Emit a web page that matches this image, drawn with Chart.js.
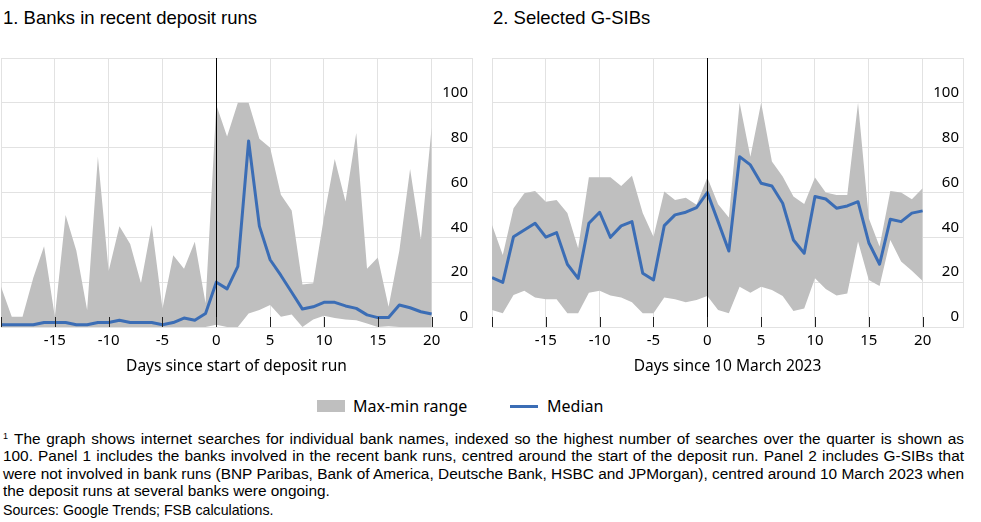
<!DOCTYPE html>
<html>
<head>
<meta charset="utf-8">
<script src="https://cdn.jsdelivr.net/npm/chart.js@4.4.1/dist/chart.umd.min.js"></script>
<style>
  body { margin: 0; background: #fff; width: 981px; height: 522px; overflow: hidden; position: relative; }
  .title { position: absolute; top: 7px; font: 18.5px 'Liberation Sans', Arial, sans-serif; color: #000; }
  .panel { position: absolute; top: 50px; }
  #legend { position: absolute; top: 396px; left: 0; width: 981px; font: 16px 'Noto Sans', sans-serif; color: #000; }
  .lg { position: absolute; top: 0; line-height: 20px; }
  .lg-box { position: absolute; top: 4px; width: 28px; height: 12px; background: #bfbfbf; }
  .lg-line { position: absolute; top: 9px; width: 28px; height: 3px; background: #3b6db5; }
  #note { position: absolute; left: 3px; top: 428px; width: 961px; font: 15.4px 'Liberation Sans', Arial, sans-serif; line-height: 17.3px; color: #000; }
  #note .j { text-align: justify; text-align-last: justify; white-space: nowrap; }
  #note sup { font-size: 9px; vertical-align: 5px; margin-right: 6px; }
  #src { position: absolute; left: 3px; top: 502px; font: 14.2px 'Liberation Sans', Arial, sans-serif; color: #000; }
</style>
</head>
<body>
<div class="title" style="left:3px">1. Banks in recent deposit runs</div>
<div class="title" style="left:493px">2. Selected G-SIBs</div>
<div class="panel" style="left:0; width:485px; height:340px"><canvas id="c1"></canvas></div>
<div class="panel" style="left:485px; width:490px; height:340px"><canvas id="c2"></canvas></div>
<div id="legend">
  <div class="lg-box" style="left:317px"></div>
  <div class="lg" style="left:353px">Max-min range</div>
  <div class="lg-line" style="left:510px"></div>
  <div class="lg" style="left:547px">Median</div>
</div>
<div id="note">
  <div class="j"><sup>1</sup>The graph shows internet searches for individual bank names, indexed so the highest number of searches over the quarter is shown as</div>
  <div class="j">100. Panel 1 includes the banks involved in the recent bank runs, centred around the start of the deposit run. Panel 2 includes G-SIBs that</div>
  <div class="j">were not involved in bank runs (BNP Paribas, Bank of America, Deutsche Bank, HSBC and JPMorgan), centred around 10 March 2023 when</div>
  <div>the deposit runs at several banks were ongoing.</div>
</div>
<div id="src">Sources: Google Trends; FSB calculations.</div>

<script>
// day offsets shared by both panels
const days = [-20, -19, -18, -17, -16, -15, -14, -13, -12, -11, -10, -9, -8, -7, -6, -5, -4, -3, -2, -1,
              0, 1, 2, 3, 4, 5, 6, 7, 8, 9, 10, 11, 12, 13, 14, 15, 16, 17, 18, 19, 20];
const xTicks = [-20, -15, -10, -5, 0, 5, 10, 15, 20];
const yTicks = [0, 20, 40, 60, 80, 100, 120];

// panel 1: banks in recent deposit runs
const p1Max = [18, 4.6, 4.6, 22, 36, 4.6, 50, 34, 7.6, 76, 25, 45, 37, 19.5, 45.5, 8.3, 32, 26, 38, 10.6,
               99, 85, 100, 100, 84, 80, 59, 52, 19, 19.5, 49, 75, 56, 86.5, 26, 31, 9, 34, 70.5, 39, 89];
const p1Min = [0, 0, 0, 0, 0, 0, 0, 0, 0, 0, 0, 0, 0, 0, 0, 0, 0, 0, 0, 0,
               1, 0, 0, 6, 7.6, 9.8, 4.6, 5.6, 0, 3.4, 5, 4, 3.4, 3, 1.6, 0, 0.3, 0, 0, 0, 0];
const p1Med = [1, 1, 1, 1, 2, 2, 2, 1, 1, 2, 2, 3, 2, 2, 2, 1, 2, 4, 3, 6,
               20, 17, 27, 83, 45, 30, 23, 15.5, 8, 9, 11, 11, 9.4, 8.3, 5.4, 4.2, 4.2, 9.8, 8.6, 6.8, 5.8];

// panel 2: selected G-SIBs
const p2Max = [45.5, 32.1, 53, 59.7, 60.7, 55.9, 56.7, 50.8, 35.1, 66.8, 66.8, 66.8, 62.9, 67.5, 50.8, 40.3, 60.4, 56.7, 57.7, 54.5,
               66.7, 54.8, 48.8, 100, 76, 100, 73.8, 67.1, 58.2, 54.9, 66.7, 60, 58.9, 58.9, 100, 48.5, 35.9, 60.7, 60, 57, 61.9];
const p2Min = [7.6, 6.1, 14.3, 16.2, 13.2, 12.4, 12.4, 6.1, 6.1, 15.3, 16.2, 14, 13.2, 11, 6.1, 6.1, 13.2, 12.4, 11, 12,
               13.8, 7.6, 6.1, 18, 15.3, 18, 16.5, 13.8, 7.1, 8.3, 21.7, 17, 14, 15, 38.1, 21, 18.3, 38.8, 29.2, 25.1, 20.5];
const p2Med = [22, 19.9, 40.3, 43.3, 46.3, 40.1, 42.1, 28, 21.7, 46.3, 51.2, 40, 45.1, 47, 24, 21, 45.2, 50, 51.2, 53.3,
               60, 47, 33.9, 76, 72.3, 64.1, 62.9, 55.2, 38.8, 32.9, 58.2, 57.1, 53, 54, 55.9, 37.6, 28, 48.1, 47, 50.8, 51.8];

const GRID = '#e2e2e2';
const RANGE = '#bfbfbf';
const BLUE = '#3b6db5';
const TICK_FONT = { family: "'Noto Sans', sans-serif", size: 15 };
const TITLE_FONT = { family: "'Noto Sans', sans-serif", size: 15.5 };

function pts(arr) { return days.map((d, i) => ({ x: d, y: arr[i] })); }

// zero line and the small inward tick marks, drawn over the range fill
const panelMarks = {
    id: 'panelMarks',
    afterDatasetsDraw(chart) {
        const { ctx, chartArea, scales } = chart;
        const x = scales.x;
        ctx.save();
        ctx.lineWidth = 1;
        ctx.strokeStyle = '#000';
        const z = Math.round(x.getPixelForValue(0)) + 0.5;
        ctx.beginPath();
        ctx.moveTo(z, chartArea.top);
        ctx.lineTo(z, chartArea.bottom);
        ctx.stroke();
        ctx.strokeStyle = '#222';
        xTicks.forEach(v => {
            const px = Math.round(x.getPixelForValue(v)) + 0.5;
            ctx.beginPath();
            ctx.moveTo(px, chartArea.bottom);
            ctx.lineTo(px, chartArea.bottom - 10);
            ctx.stroke();
        });
        ctx.restore();
    }
};

function makePanel(id, med, max, min, xTitle, pad) {
    return new Chart(document.getElementById(id), {
        type: 'line',
        data: {
            datasets: [
                { label: 'Median', data: pts(med), borderColor: BLUE, borderWidth: 3, borderJoinStyle: 'round',
                  pointRadius: 0, fill: false, tension: 0 },
                { label: 'Max', data: pts(max), borderWidth: 0, borderColor: 'rgba(0,0,0,0)', pointRadius: 0,
                  fill: '+1', backgroundColor: RANGE, tension: 0 },
                { label: 'Min', data: pts(min), borderWidth: 0, borderColor: 'rgba(0,0,0,0)', pointRadius: 0,
                  fill: false, tension: 0 }
            ]
        },
        options: {
            responsive: true,
            maintainAspectRatio: false,
            animation: false,
            layout: { padding: pad },
            plugins: { legend: { display: false }, tooltip: { enabled: false } },
            scales: {
                x: {
                    type: 'linear',
                    min: -20,
                    max: 23.75,
                    afterBuildTicks: s => { s.ticks = xTicks.map(v => ({ value: v })); },
                    afterFit: s => { s.height = 60; s.paddingLeft = 0; s.paddingRight = 0; },
                    grid: { color: GRID, drawTicks: false },
                    border: { color: GRID },
                    ticks: {
                        font: TICK_FONT, color: '#000', padding: 5, maxRotation: 0,
                        callback: v => (v === -20 ? '' : String(v))
                    },
                    title: { display: true, text: xTitle, font: TITLE_FONT, color: '#000', padding: { top: 4, bottom: 11 } }
                },
                y: {
                    position: 'right',
                    min: 0,
                    max: 120,
                    afterBuildTicks: s => { s.ticks = yTicks.map(v => ({ value: v })); },
                    afterFit: s => { s.width = 0; },
                    grid: { color: GRID, drawTicks: false },
                    border: { color: GRID },
                    ticks: {
                        mirror: true, padding: -4, labelOffset: -10,
                        font: TICK_FONT, color: '#000',
                        callback: v => (v === 120 ? '' : v)
                    }
                }
            }
        },
        plugins: [panelMarks]
    });
}

makePanel('c1', p1Med, p1Max, p1Min, 'Days since start of deposit run', { left: 1, right: 13, top: 8, bottom: 3 });
makePanel('c2', p2Med, p2Max, p2Min, 'Days since 10 March 2023', { left: 7, right: 12, top: 8, bottom: 3 });
</script>
</body>
</html>
